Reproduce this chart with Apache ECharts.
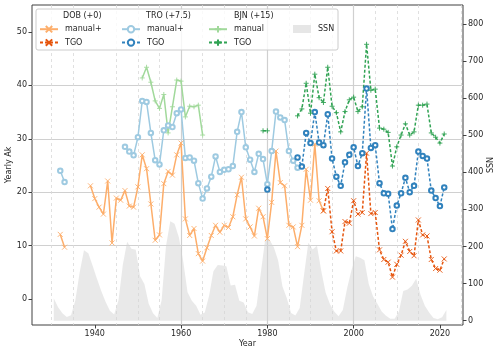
<!DOCTYPE html>
<html>
<head>
<meta charset="utf-8">
<script src="https://cdn.jsdelivr.net/npm/echarts@6/dist/echarts.min.js"></script>
<style>
html, body { margin: 0; padding: 0; background: #fff; }
#chart { width: 500px; height: 354px; }
</style>
</head>
<body>
<div id="chart"></div>
<script>
// yearly Ak, already shifted by the station offset shown in the legend
var dobManYears = [1932, 1933, 1934, 1939, 1940, 1941, 1942, 1943, 1944, 1945, 1946, 1947, 1948, 1949, 1950,
  1951, 1952, 1953, 1954, 1955, 1956, 1957, 1958, 1959, 1960, 1961, 1962, 1963, 1964, 1965, 1966, 1967, 1968,
  1969, 1970, 1971, 1972, 1973, 1974, 1975, 1976, 1977, 1978, 1979, 1980, 1981, 1982, 1983, 1984, 1985, 1986,
  1987, 1988, 1989, 1990, 1991, 1992, 1993];
var dobManVals = [12.1, 9.7, null, 21.2, 18.8, 17.2, 15.9, 22.1, 10.5, 18.9, 18.5, 20.3, 17.4, 17.2, 21.0,
  27.0, 24.4, 17.8, 11.0, 12.0, 21.6, 23.9, 23.2, 27.0, 29.2, 15.0, 11.9, 13.2, 8.5, 7.1, 9.6, 11.9, 13.8,
  12.5, 13.8, 13.4, 15.4, 19.5, 22.8, 15.0, 13.5, 11.8, 17.0, 15.4, 11.3, 18.1, 27.7, 21.8, 21.2, 13.8, 13.5,
  9.8, 13.8, 24.3, 18.5, 29.0, 18.4, 16.5];

var dobTgoYears = [1993, 1994, 1995, 1996, 1997, 1998, 1999, 2000, 2001, 2002, 2003, 2004, 2005, 2006, 2007,
  2008, 2009, 2010, 2011, 2012, 2013, 2014, 2015, 2016, 2017, 2018, 2019, 2020, 2021];
var dobTgoVals = [16.5, 20.7, 12.6, 9.0, 9.0, 14.5, 14.2, 18.4, 15.9, 16.2, 27.3, 16.0, 16.2, 9.2, 7.4,
  6.9, 4.1, 6.5, 8.2, 10.8, 8.9, 8.1, 14.8, 12.0, 11.8, 7.4, 5.7, 5.4, 7.5];

var troManYears = [1932, 1933, 1934, 1947, 1948, 1949, 1950, 1951, 1952, 1953, 1954, 1955, 1956, 1957, 1958,
  1959, 1960, 1961, 1962, 1963, 1964, 1965, 1966, 1967, 1968, 1969, 1970, 1971, 1972, 1973, 1974, 1975, 1976,
  1977, 1978, 1979, 1980, 1981, 1982, 1983, 1984, 1985, 1986, 1987];
var troManVals = [24.0, 21.9, null, 28.5, 27.6, 26.9, 30.3, 37.1, 36.9, 31.1, 26.0, 25.2, 31.6, 32.5, 32.2,
  34.8, 35.5, 26.4, 26.5, 25.9, 21.7, 18.8, 20.7, 22.9, 26.7, 23.8, 24.2, 24.3, 24.9, 31.3, 35.0, 28.4, 26.1,
  23.8, 27.2, 26.2, 21.5, 27.7, 35.1, 34.0, 33.5, 27.7, 25.9, 24.6];

var troTgoYears = [1980, 1981, 1987, 1988, 1989, 1990, 1991, 1992, 1993, 1994, 1995, 1996, 1997, 1998, 1999,
  2000, 2001, 2002, 2003, 2004, 2005, 2006, 2007, 2008, 2009, 2010, 2011, 2012, 2013, 2014, 2015, 2016, 2017,
  2018, 2019, 2020, 2021];
var troTgoVals = [20.5, null, 26.5, 24.8, 31.1, 29.2, 35.0, 29.3, 28.8, 34.6, 26.3, 22.9, 21.2, 25.6, 27.0,
  28.4, 24.9, 27.3, 39.4, 28.3, 28.8, 21.7, 19.8, 19.7, 13.1, 17.5, 19.8, 22.7, 20.0, 21.2, 27.6, 26.8, 26.3,
  20.3, 18.9, 17.4, 20.9];

var bjnManYears = [1951, 1952, 1953, 1954, 1955, 1956, 1957, 1958, 1959, 1960, 1961, 1962, 1963, 1964, 1965];
var bjnManVals = [41.4, 43.4, 40.6, 37.1, 35.7, 38.3, 31.1, 36.0, 41.0, 40.8, 34.1, 36.1, 36.0, 36.3, 30.7];

var bjnTgoYears = [1979, 1980, 1981, 1987, 1988, 1989, 1990, 1991, 1992, 1993, 1994, 1995, 1996, 1997, 1998,
  1999, 2000, 2001, 2002, 2003, 2004, 2005, 2006, 2007, 2008, 2009, 2010, 2011, 2012, 2013, 2014, 2015, 2016,
  2017, 2018, 2019, 2020, 2021];
var bjnTgoVals = [31.5, 31.5, null, 34.3, 35.6, 40.4, 34.8, 42.1, 37.7, 36.8, 43.4, 36.1, 34.9, 31.3, 35.1,
  37.3, 37.8, 35.1, 36.0, 47.7, 39.1, 39.3, 32.0, 31.8, 31.2, 24.9, 28.5, 30.7, 32.8, 30.7, 31.3, 36.3, 36.3,
  36.5, 31.1, 30.3, 29.2, 30.9];

// yearly sunspot number, drawn at mid-year on the right axis
var ssnYears = [1930, 1931, 1932, 1933, 1934, 1935, 1936, 1937, 1938, 1939, 1940, 1941, 1942, 1943, 1944,
  1945, 1946, 1947, 1948, 1949, 1950, 1951, 1952, 1953, 1954, 1955, 1956, 1957, 1958, 1959, 1960, 1961, 1962,
  1963, 1964, 1965, 1966, 1967, 1968, 1969, 1970, 1971, 1972, 1973, 1974, 1975, 1976, 1977, 1978, 1979, 1980,
  1981, 1982, 1983, 1984, 1985, 1986, 1987, 1988, 1989, 1990, 1991, 1992, 1993, 1994, 1995, 1996, 1997, 1998,
  1999, 2000, 2001, 2002, 2003, 2004, 2005, 2006, 2007, 2008, 2009, 2010, 2011, 2012, 2013, 2014, 2015, 2016,
  2017, 2018, 2019, 2020, 2021];
var ssnVals = [60, 36, 20, 10, 15, 55, 130, 190, 182, 148, 113, 80, 51, 27, 17,
  55, 150, 213, 194, 191, 120, 99, 46, 20, 7, 55, 200, 268, 261, 224, 160, 77, 54,
  40, 16, 22, 67, 133, 150, 149, 147, 95, 97, 54, 49, 23, 18, 40, 130, 219, 218,
  198, 162, 92, 61, 21, 14, 34, 123, 210, 192, 202, 134, 76, 45, 25, 12, 29, 88,
  136, 174, 170, 163, 99, 65, 46, 25, 13, 5, 5, 25, 80, 84, 94, 113, 70, 40,
  22, 7, 4, 9, 29];

var xTicks = [1940, 1960, 1980, 2000, 2020];
var akTicks = [0, 10, 20, 30, 40, 50];
var ssnTicks = [0, 100, 200, 300, 400, 500, 600, 700, 800];

var FONT = 'DejaVu Sans';
var TXT = '#262626';
var SYM_X = 'path://M0,0L10,10M10,0L0,10';
var SYM_PLUS = 'path://M5,0L5,10M0,5L10,5';

function pairs(xs, vs, shift) {
  var out = [];
  for (var i = 0; i < xs.length; i++) {
    out.push([xs[i] + (shift || 0), vs[i] == null ? '-' : vs[i]]);
  }
  return out;
}

function akLine(name, xs, vs, color, dashed, symbol) {
  var circle = symbol === 'emptyCircle';
  return {
    name: name,
    type: 'line',
    yAxisIndex: 0,
    data: pairs(xs, vs),
    symbol: symbol,
    symbolSize: circle ? 4.5 : 5,
    showSymbol: true,
    lineStyle: { color: color, width: 1.5, type: dashed ? [3, 2] : 'solid' },
    itemStyle: { color: color, borderColor: color, borderWidth: circle ? 1.2 : 0.9 },
    emphasis: { disabled: true },
    z: 3
  };
}

var chart = echarts.init(document.getElementById('chart'), null, { renderer: 'canvas' });

function legendCol(items, left, top) {
  return {
    data: items,
    orient: 'vertical',
    left: left,
    top: top,
    padding: 0,
    itemGap: 5,
    itemWidth: 18,
    itemHeight: 8,
    selectedMode: false,
    z: 110,
    formatter: function (n) {
      var i = n.indexOf(' ');
      return i < 0 ? n : n.slice(i + 1);
    },
    textStyle: { fontFamily: FONT, fontSize: 8, color: TXT, padding: [0, 0, 0, 2] }
  };
}

var option = {
  animation: false,
  backgroundColor: '#fff',
  textStyle: { fontFamily: FONT },
  grid: {
    left: 32, right: 37, top: 5, bottom: 29,
    show: true, borderColor: '#404040', borderWidth: 1,
    outerBoundsMode: 'none'
  },
  legend: [
    legendCol(['DOB manual+', 'DOB TGO'], 39, 25),
    legendCol(['TRO manual+', 'TRO TGO'], 121, 25),
    legendCol(['BJN manual', 'BJN TGO'], 208, 25),
    legendCol([{ name: 'SSN', icon: 'rect', itemStyle: { color: '#e6e6e6' } }], 293, 25)
  ],
  graphic: [
    { type: 'rect', z: 100, shape: { x: 36, y: 9, width: 302, height: 41, r: 2 },
      style: { fill: 'rgba(255,255,255,0.8)', stroke: '#cccccc', lineWidth: 1 } },
    { type: 'text', z: 120, x: 63, y: 12, style: { text: 'DOB (+0)', font: '8px "DejaVu Sans"', fill: TXT } },
    { type: 'text', z: 120, x: 146, y: 12, style: { text: 'TRO (+7.5)', font: '8px "DejaVu Sans"', fill: TXT } },
    { type: 'text', z: 120, x: 234, y: 12, style: { text: 'BJN (+15)', font: '8px "DejaVu Sans"', fill: TXT } }
  ],
  xAxis: {
    type: 'value',
    min: 1925.45,
    max: 2025.35,
    minInterval: 20,
    maxInterval: 20,
    name: 'Year',
    nameLocation: 'middle',
    nameGap: 15,
    nameMoveOverlap: false,
    nameTextStyle: { fontFamily: FONT, fontSize: 8, color: TXT },
    axisLine: { show: false, onZero: false },
    axisTick: { show: true, length: 3.5, customValues: xTicks, lineStyle: { color: '#404040' } },
    axisLabel: {
      customValues: xTicks, margin: 5, fontSize: 8, color: TXT, fontFamily: FONT,
      formatter: function (v) { return String(v); }
    },
    splitLine: { show: true, showMinLine: false, showMaxLine: false, lineStyle: { color: '#d0d0d0', width: 1.2 } },
    minorTick: { show: false, splitNumber: 4 },
    minorSplitLine: { show: true, lineStyle: { color: '#d8d8d8', width: 0.8, type: [3, 3] } }
  },
  yAxis: [
    {
      type: 'value',
      position: 'left',
      min: -4.87,
      max: 55.06,
      minInterval: 10,
      maxInterval: 10,
      name: 'Yearly Ak',
      nameLocation: 'middle',
      nameRotate: 90,
      nameGap: 19,
      nameMoveOverlap: false,
      nameTextStyle: { fontFamily: FONT, fontSize: 8, color: TXT },
      axisLine: { show: false },
      axisTick: { show: true, length: 3.5, customValues: akTicks, lineStyle: { color: '#404040' } },
      axisLabel: { customValues: akTicks, margin: 5, fontSize: 8, color: TXT, fontFamily: FONT },
      splitLine: { show: true, showMinLine: false, showMaxLine: false, lineStyle: { color: '#d0d0d0', width: 1.2 } }
    },
    {
      type: 'value',
      position: 'right',
      min: -11.6,
      max: 851,
      minInterval: 100,
      maxInterval: 100,
      name: 'SSN',
      nameLocation: 'middle',
      nameRotate: 90,
      nameGap: 24,
      nameMoveOverlap: false,
      nameTextStyle: { fontFamily: FONT, fontSize: 8, color: TXT },
      axisLine: { show: false },
      axisTick: { show: true, length: 3.5, customValues: ssnTicks, lineStyle: { color: '#404040' } },
      axisLabel: { customValues: ssnTicks, margin: 5, fontSize: 8, color: TXT, fontFamily: FONT },
      splitLine: { show: false }
    }
  ],
  series: [
    {
      name: 'SSN',
      type: 'line',
      yAxisIndex: 1,
      data: pairs(ssnYears, ssnVals, 0.5),
      symbol: 'none',
      lineStyle: { width: 0, color: '#d3d3d3' },
      itemStyle: { color: '#d3d3d3' },
      areaStyle: { color: '#d3d3d3', opacity: 0.5 },
      emphasis: { disabled: true },
      z: 1
    },
    akLine('DOB manual+', dobManYears, dobManVals, '#fdae6b', false, SYM_X),
    akLine('DOB TGO', dobTgoYears, dobTgoVals, '#e6550d', true, SYM_X),
    akLine('TRO manual+', troManYears, troManVals, '#9ecae1', false, 'emptyCircle'),
    akLine('TRO TGO', troTgoYears, troTgoVals, '#3182bd', true, 'emptyCircle'),
    akLine('BJN manual', bjnManYears, bjnManVals, '#a1d99b', false, SYM_PLUS),
    akLine('BJN TGO', bjnTgoYears, bjnTgoVals, '#31a354', true, SYM_PLUS)
  ]
};

chart.setOption(option);
</script>
</body>
</html>
